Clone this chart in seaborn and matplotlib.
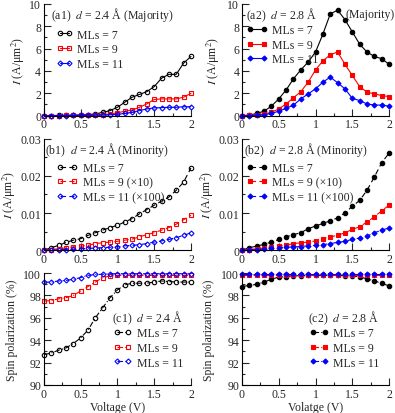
import numpy as np
import pandas as pd
import matplotlib
matplotlib.use("Agg")
import matplotlib.pyplot as plt
from matplotlib.ticker import FixedLocator, FuncFormatter, MultipleLocator
import seaborn as sns

# bias voltage (V)
voltage = [round(0.1 * i, 1) for i in range(21)]

# (a1) majority current, d = 2.4 A
a1_ml7 = [0, 0.01, 0.02, 0.03, 0.05, 0.07, 0.1, 0.15, 0.3, 0.45, 0.75, 1.2, 1.65, 1.9, 2.15, 2.6, 3.35, 3.7, 3.7, 4.7, 5.3]
a1_ml9 = [0, 0.01, 0.01, 0.02, 0.02, 0.03, 0.05, 0.07, 0.1, 0.15, 0.25, 0.4, 0.5, 0.75, 1.05, 1.45, 1.5, 1.5, 1.5, 1.65, 2.0]
a1_ml11 = [0, 0.01, 0.01, 0.01, 0.02, 0.02, 0.03, 0.04, 0.05, 0.08, 0.12, 0.2, 0.3, 0.45, 0.6, 0.7, 0.72, 0.75, 0.75, 0.8, 0.8]

# (a2) majority current, d = 2.8 A
a2_ml7 = [0, 0.05, 0.2, 0.4, 0.85, 1.5, 2.3, 3.3, 4.1, 4.8, 5.7, 7.3, 9.1, 9.45, 8.6, 7.5, 6.4, 5.7, 5.3, 5.1, 4.6]
a2_ml9 = [0, 0.02, 0.08, 0.15, 0.3, 0.6, 1.05, 1.6, 2.15, 3.0, 4.1, 4.9, 5.45, 5.7, 4.6, 3.6, 2.6, 2.1, 1.95, 1.8, 1.7]
a2_ml11 = [0, 0.01, 0.03, 0.08, 0.2, 0.4, 0.65, 0.95, 1.5, 1.95, 2.4, 3.0, 3.45, 2.95, 2.4, 1.55, 1.35, 1.05, 0.95, 0.95, 0.85]

# (b1) minority current, d = 2.4 A
b1_ml7 = [0, 0.0007, 0.0013, 0.0021, 0.0027, 0.0031, 0.004, 0.0047, 0.0054, 0.0061, 0.0067, 0.0076, 0.0085, 0.0098, 0.0109, 0.0121, 0.0132, 0.0143, 0.0161, 0.0183, 0.0221]
b1_ml9 = [0, 0.0002, 0.0004, 0.0006, 0.0009, 0.0011, 0.0013, 0.0018, 0.002, 0.0022, 0.0024, 0.0027, 0.003, 0.0036, 0.0042, 0.0047, 0.0054, 0.0061, 0.007, 0.0082, 0.0094]
b1_ml11 = [0, 0.00005, 0.0001, 0.0002, 0.0003, 0.0004, 0.0005, 0.0006, 0.0007, 0.0008, 0.0009, 0.0012, 0.0013, 0.0015, 0.0018, 0.0022, 0.0025, 0.0029, 0.0034, 0.004, 0.0047]

# (b2) minority current, d = 2.8 A
b2_ml7 = [0, 0.0007, 0.0011, 0.0016, 0.0022, 0.0029, 0.0036, 0.0042, 0.0047, 0.0058, 0.0065, 0.0072, 0.0079, 0.0087, 0.01, 0.0118, 0.0134, 0.0161, 0.0197, 0.0235, 0.0261]
b2_ml9 = [0, 0.0002, 0.0004, 0.0006, 0.0009, 0.0011, 0.0013, 0.0018, 0.002, 0.0022, 0.0025, 0.0031, 0.0036, 0.004, 0.0047, 0.0056, 0.0063, 0.0076, 0.009, 0.0106, 0.0121]
b2_ml11 = [0, 0.0001, 0.0002, 0.0003, 0.0005, 0.0006, 0.0008, 0.0009, 0.001, 0.0012, 0.0013, 0.0015, 0.0018, 0.0021, 0.0024, 0.0029, 0.0033, 0.0038, 0.0047, 0.0054, 0.006]

# (c1) spin polarization, d = 2.4 A
c1_ml7 = [92.7, 92.85, 93.1, 93.3, 93.7, 94.2, 94.9, 96.0, 96.9, 97.8, 98.5, 98.95, 99.1, 99.1, 99.1, 99.2, 99.3, 99.25, 99.2, 99.2, 99.2]
c1_ml9 = [97.5, 97.55, 97.7, 97.8, 98.0, 98.4, 98.8, 99.2, 99.6, 99.75, 99.8, 99.8, 99.8, 99.8, 99.8, 99.8, 99.8, 99.8, 99.8, 99.8, 99.8]
c1_ml11 = [99.2, 99.2, 99.3, 99.35, 99.45, 99.6, 99.8, 99.88, 99.9, 99.95, 99.95, 99.95, 99.95, 99.95, 99.95, 99.95, 99.95, 99.95, 99.95, 99.95, 99.95]

# (c2) spin polarization, d = 2.8 A
c2_ml7 = [98.8, 98.9, 99.0, 99.2, 99.45, 99.65, 99.7, 99.75, 99.78, 99.8, 99.8, 99.8, 99.8, 99.8, 99.78, 99.78, 99.65, 99.5, 99.3, 99.1, 98.85]
c2_ml9 = [99.85] * 21
c2_ml11 = [99.95] * 21

colors = ["black", "red", "blue"]
markers = ["o", "s", "D"]

sns.set_theme(style="ticks")
plt.rcParams["font.family"] = ["Liberation Serif", "DejaVu Serif"]
plt.rcParams["mathtext.fontset"] = "stix"
plt.rcParams["xtick.direction"] = "in"
plt.rcParams["ytick.direction"] = "in"
plt.rcParams["font.size"] = 8.5

fig, axes = plt.subplots(3, 2, figsize=(3.95, 4.14), dpi=100)
fig.subplots_adjust(left=0.111, right=0.985, top=0.988, bottom=0.068, wspace=0.347, hspace=0.205)


def draw_panel(ax, series, labels, ls, filled, msize):
    for y, lab, c, m in zip(series, labels, colors, markers):
        df = pd.DataFrame({"V": voltage, "y": y})
        ms = msize if m != "D" else msize * 0.8
        sns.lineplot(data=df, x="V", y="y", ax=ax, color=c, marker=m, markersize=ms,
                     linestyle=ls, linewidth=0.8, label=lab,
                     markerfacecolor=c if filled else "none",
                     markeredgecolor=c, markeredgewidth=0.8)


fs = 8.5
lab_a = ["MLs = 7", "MLs = 9", "MLs = 11"]
lab_b = ["MLs = 7", "MLs = 9 (×10)", "MLs = 11 (×100)"]

draw_panel(axes[0, 0], [a1_ml7, a1_ml9, a1_ml11], lab_a, "-", False, 3.2)
draw_panel(axes[0, 1], [a2_ml7, a2_ml9, a2_ml11], lab_a, "-", True, 3.2)
draw_panel(axes[1, 0], [b1_ml7, b1_ml9, b1_ml11], lab_b, (0, (5, 3)), False, 3.2)
draw_panel(axes[1, 1], [b2_ml7, b2_ml9, b2_ml11], lab_b, (0, (5, 3)), True, 3.2)
draw_panel(axes[2, 0], [c1_ml7, c1_ml9, c1_ml11], lab_a, (0, (5, 2, 1, 2)), False, 3.2)
draw_panel(axes[2, 1], [c2_ml7, c2_ml9, c2_ml11], lab_a, (0, (5, 2, 1, 2)), True, 3.2)

leg_kw = dict(frameon=False, numpoints=2, borderpad=0, borderaxespad=0,
              handletextpad=0.4, labelspacing=0.22, fontsize=fs, loc="upper left")
axes[0, 0].legend(bbox_to_anchor=(0.088, 0.78), handlelength=1.3, **leg_kw)
axes[0, 1].legend(bbox_to_anchor=(0.03, 0.82), handlelength=1.8, **leg_kw)
axes[1, 0].legend(bbox_to_anchor=(0.088, 0.79), handlelength=1.8, **leg_kw)
axes[1, 1].legend(bbox_to_anchor=(0.03, 0.79), handlelength=1.8, **leg_kw)
axes[2, 0].legend(bbox_to_anchor=(0.47, 0.515), handlelength=1.6, **leg_kw)
axes[2, 1].legend(bbox_to_anchor=(0.46, 0.515), handlelength=1.6, **leg_kw)

axes[0, 0].text(0.048, 0.91, r"(a1)  $d$ = 2.4 Å (Majority)", transform=axes[0, 0].transAxes,
                fontsize=fs, va="center", ha="left")
axes[0, 1].text(0.027, 0.91, r"(a2)  $d$ = 2.8 Å", transform=axes[0, 1].transAxes,
                fontsize=fs, va="center", ha="left")
axes[0, 1].text(1.035, 0.91, "(Majority)", transform=axes[0, 1].transAxes,
                fontsize=fs, va="center", ha="right")
axes[1, 0].text(0.01, 0.91, r"(b1)  $d$ = 2.4 Å (Minority)", transform=axes[1, 0].transAxes,
                fontsize=fs, va="center", ha="left")
axes[1, 1].text(0.014, 0.91, r"(b2)  $d$ = 2.8 Å (Minority)", transform=axes[1, 1].transAxes,
                fontsize=fs, va="center", ha="left")
axes[2, 0].text(0.46, 0.607, r"(c1)  $d$ = 2.4 Å", transform=axes[2, 0].transAxes,
                fontsize=fs, va="center", ha="left")
axes[2, 1].text(0.45, 0.607, r"(c2)  $d$ = 2.8 Å", transform=axes[2, 1].transAxes,
                fontsize=fs, va="center", ha="left")

x_fmt = FuncFormatter(lambda v, p: f"{v:g}")
for ax in axes.flat:
    ax.set_xlim(0, 2)
    ax.xaxis.set_major_locator(FixedLocator([0, 0.5, 1, 1.5, 2]))
    ax.xaxis.set_minor_locator(MultipleLocator(0.25))
    ax.xaxis.set_major_formatter(x_fmt)
    ax.tick_params(which="major", labelsize=fs, length=5, width=0.8, pad=2)
    ax.tick_params(which="minor", length=2.5, width=0.8)
    ax.set_xlabel("")
    sns.despine(ax=ax)

for ax in axes[0]:
    ax.set_ylim(0, 10)
    ax.yaxis.set_major_locator(FixedLocator([0, 2, 4, 6, 8, 10]))
    ax.yaxis.set_minor_locator(MultipleLocator(1))
    ax.set_ylabel(r"$I$ (A/μm$^2$)", fontsize=fs)
for ax in axes[1]:
    ax.set_ylim(0, 0.03)
    ax.yaxis.set_major_locator(FixedLocator([0, 0.01, 0.02, 0.03]))
    ax.yaxis.set_minor_locator(MultipleLocator(0.005))
    ax.yaxis.set_major_formatter(FuncFormatter(lambda v, p: f"{v:g}"))
    ax.set_ylabel(r"$I$ (A/μm$^2$)", fontsize=fs)
for ax in axes[2]:
    ax.set_ylim(90, 100)
    ax.yaxis.set_major_locator(FixedLocator([90, 92, 94, 96, 98, 100]))
    ax.yaxis.set_minor_locator(MultipleLocator(1))
    ax.set_ylabel("Spin polarization (%)", fontsize=fs)
axes[2, 0].set_xlabel("Voltage (V)", fontsize=fs, labelpad=1)
axes[2, 1].set_xlabel("Volatge (V)", fontsize=fs, labelpad=1)

# y-label positions (right edge of rotated text, axes fraction)
axes[0, 0].yaxis.set_label_coords(-0.116, 0.5)
axes[1, 0].yaxis.set_label_coords(-0.175, 0.5)
axes[2, 0].yaxis.set_label_coords(-0.177, 0.5)
axes[0, 1].yaxis.set_label_coords(-0.136, 0.5)
axes[1, 1].yaxis.set_label_coords(-0.175, 0.5)
axes[2, 1].yaxis.set_label_coords(-0.184, 0.5)

for ax in axes.flat:
    for sp in ax.spines.values():
        sp.set_linewidth(0.8)
        sp.set_color("black")
    for ln in ax.lines:
        ln.set_clip_on(False)

fig.savefig("out.png", dpi=100)
